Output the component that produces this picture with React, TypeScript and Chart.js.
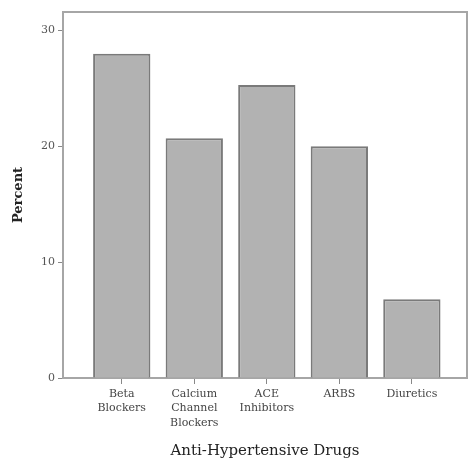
import React, { useEffect, useRef } from "react";
import { Chart, registerables } from "chart.js";

Chart.register(...registerables);

// ---- data ----
const categories: string[][] = [
  ["Beta", "Blockers"],
  ["Calcium", "Channel", "Blockers"],
  ["ACE", "Inhibitors"],
  ["ARBS"],
  ["Diuretics"],
];
const percents: number[] = [28.0, 20.7, 25.3, 20.0, 6.8];
const yTickValues: number[] = [0, 10, 20, 30];
const xTitle = "Anti-Hypertensive Drugs";
const yTitle = "Percent";

const FONT = "'DejaVu Serif', 'Liberation Serif', serif";

const framePlugin = {
  id: "frame",
  beforeDatasetsDraw(chart: any) {
    const { ctx, chartArea: a } = chart;
    ctx.save();
    ctx.strokeStyle = "#a6a6a6";
    ctx.lineWidth = 2;
    ctx.strokeRect(a.left, a.top, a.right - a.left, a.bottom - a.top);
    ctx.restore();
  },
};

export default function App() {
  const ref = useRef<HTMLCanvasElement | null>(null);

  useEffect(() => {
    if (!ref.current) return;
    const chart = new Chart(ref.current, {
      type: "bar",
      data: {
        datasets: [
          {
            data: percents.map((v, i) => ({ x: i, y: v })),
            backgroundColor: "#b2b2b2",
            borderColor: "#7a7a7a",
            borderWidth: 2,
            barPercentage: 0.79,
            categoryPercentage: 1,
          },
        ],
      },
      options: {
        animation: false,
        responsive: true,
        maintainAspectRatio: false,
        layout: { padding: { top: 12, right: 3, left: 0, bottom: 0 } },
        plugins: {
          legend: { display: false },
          tooltip: { enabled: false },
        },
        scales: {
          x: {
            type: "linear",
            offset: false,
            min: -0.81,
            max: 4.76,
            afterBuildTicks: (scale: any) => {
              scale.ticks = categories.map((_, i) => ({ value: i }));
            },
            afterFit: (scale: any) => {
              scale.height = 85;
            },
            ticks: {
              autoSkip: false,
              maxRotation: 0,
              padding: 3,
              color: "#444",
              font: { family: FONT, size: 11, lineHeight: 1.3 },
              callback: (v: any) => categories[Math.round(Number(v))] ?? "",
            },
            grid: {
              display: true,
              offset: false,
              drawOnChartArea: false,
              drawTicks: true,
              tickLength: 6,
              color: "#888",
              lineWidth: 1,
            },
            border: { display: false },
            title: {
              display: true,
              text: xTitle,
              color: "#222",
              font: { family: FONT, size: 15 },
              padding: { top: 4, bottom: 3 },
            },
          },
          y: {
            type: "linear",
            min: 0,
            max: 31.6,
            afterBuildTicks: (scale: any) => {
              scale.ticks = yTickValues.map((v) => ({ value: v }));
            },
            afterFit: (scale: any) => {
              scale.width = 63;
            },
            ticks: {
              padding: 3,
              color: "#555",
              font: { family: FONT, size: 11 },
            },
            grid: {
              display: true,
              drawOnChartArea: false,
              drawTicks: true,
              tickLength: 5,
              color: "#888",
              lineWidth: 1,
            },
            border: { display: false },
            title: {
              display: true,
              text: yTitle,
              color: "#222",
              font: { family: FONT, size: 13, weight: "bold" },
              padding: { top: 11, bottom: 4 },
            },
          },
        },
      },
      plugins: [framePlugin],
    });
    return () => chart.destroy();
  }, []);

  return (
    <div style={{ position: "fixed", left: 0, top: 0, width: 470, height: 463, background: "#fff" }}>
      <canvas ref={ref} />
    </div>
  );
}
